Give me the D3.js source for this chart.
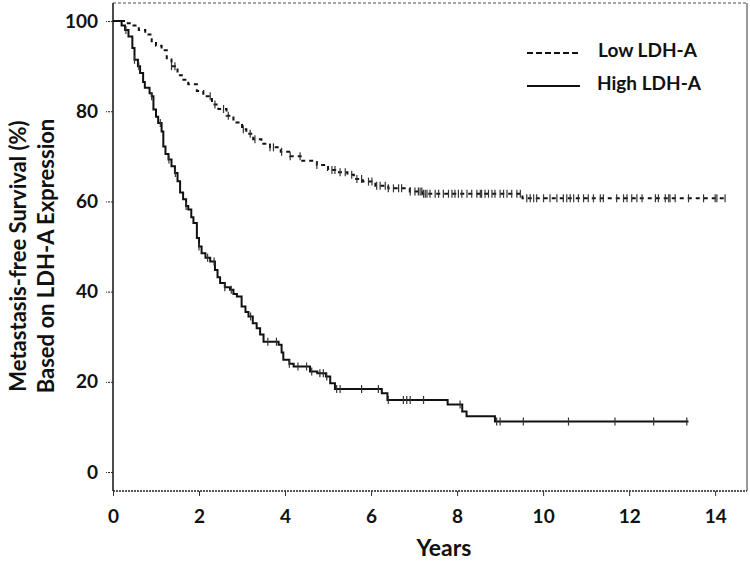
<!DOCTYPE html>
<html>
<head>
<meta charset="utf-8">
<script src="https://cdn.jsdelivr.net/npm/d3@7"></script>
<style>
  html, body { margin: 0; padding: 0; background: #fff; }
  svg { display: block; }
  text { font-family: Lato, "Open Sans", sans-serif; font-weight: bold; fill: #111; }
</style>
</head>
<body>
<svg id="chart" width="750" height="561"></svg>
<script>
// ---- data ----
const xTicks = [0, 2, 4, 6, 8, 10, 12, 14];
const yTicks = [0, 20, 40, 60, 80, 100];

const seriesNames = ["Low LDH-A", "High LDH-A"];

// Low LDH-A (dashed) step curve
const lowT = [0, 0.3, 0.45, 0.6, 0.75, 0.9, 1.0, 1.13, 1.25, 1.36, 1.5, 1.6, 1.75, 1.95, 2.1, 2.3, 2.45, 2.64, 2.8, 3.0, 3.1, 3.26, 3.45, 3.65, 3.9, 4.12, 4.4, 4.74, 5.0, 5.2, 5.45, 5.6, 5.81, 6.1, 6.4, 6.9, 7.2, 9.52, 14.23];
const lowS = [100, 99.5, 99, 98, 97, 95.5, 94.5, 93.5, 91.5, 90, 88, 87, 86, 84.5, 83.3, 81.5, 80.5, 79, 77.5, 76, 75, 73.8, 72.8, 72, 71, 70, 69, 68.1, 67, 66.5, 65.9, 65, 64.4, 63.5, 62.9, 62.2, 61.7, 60.7, 60.7];
const lowCensor = [1.36, 1.44, 2.26, 2.37, 2.57, 2.68, 3.03, 3.19, 3.30, 3.65, 3.73, 3.92, 4.12, 4.35, 4.74, 5.09, 5.16, 5.28, 5.40, 5.55, 5.67, 5.78, 5.94, 6.02, 6.13, 6.21, 6.33, 6.40, 6.52, 6.64, 6.71, 6.91, 7.02, 7.10, 7.14, 7.18, 7.22, 7.26, 7.30, 7.37, 7.49, 7.57, 7.68, 7.80, 7.88, 7.95, 8.03, 8.11, 8.23, 8.34, 8.46, 8.54, 8.57, 8.65, 8.73, 8.81, 8.88, 9.00, 9.08, 9.16, 9.27, 9.39, 9.47, 9.62, 9.70, 9.78, 9.85, 10.01, 10.16, 10.32, 10.47, 10.55, 10.63, 10.71, 10.82, 10.94, 11.05, 11.17, 11.33, 11.40, 11.71, 11.87, 11.95, 12.06, 12.18, 12.30, 12.61, 12.68, 12.84, 12.92, 12.95, 13.07, 13.38, 13.73, 14.00, 14.04, 14.23];

// High LDH-A (solid) step curve
const highT = [0, 0.2, 0.28, 0.36, 0.45, 0.5, 0.58, 0.63, 0.7, 0.74, 0.85, 0.9, 0.94, 1.0, 1.05, 1.13, 1.17, 1.22, 1.29, 1.36, 1.44, 1.5, 1.56, 1.63, 1.7, 1.75, 1.82, 1.87, 1.95, 2.0, 2.06, 2.15, 2.26, 2.37, 2.43, 2.49, 2.6, 2.72, 2.8, 2.88, 2.99, 3.08, 3.15, 3.25, 3.34, 3.42, 3.5, 3.85, 3.92, 3.96, 4.1, 4.2, 4.58, 4.75, 4.95, 5.05, 5.16, 6.25, 6.38, 7.78, 8.12, 8.22, 8.88, 13.38];
const highS = [100, 99, 98, 96.6, 94, 91.4, 90, 88.5, 86.5, 85.2, 84, 83.3, 80.4, 78.8, 77.4, 75.5, 72.2, 70.5, 69.3, 67.8, 66.3, 64.5, 62, 60.5, 59, 58.2, 56.5, 55.2, 51.9, 50, 48.5, 47.5, 46.7, 44.8, 43.2, 41.9, 41, 40.4, 39.5, 38.9, 36.7, 35.5, 34.5, 33, 31.9, 30.5, 28.9, 28.2, 26.5, 24.9, 24, 23.4, 22.3, 21.9, 21.2, 19.7, 18.4, 17.5, 16, 15, 13.4, 12.4, 11.2, 11.2];
const highCensor = [0.3, 0.5, 0.6, 0.9, 1.1, 1.3, 1.45, 1.7, 2.0, 2.2, 2.35, 2.6, 2.75, 3.2, 3.6, 3.8, 4.1, 4.3, 4.50, 4.62, 4.81, 4.89, 4.97, 5.20, 5.28, 5.78, 6.17, 6.40, 6.75, 6.83, 6.91, 7.22, 8.07, 8.92, 9.00, 9.54, 10.59, 11.67, 12.57, 13.34];

// ---- layout ----
const svg = d3.select("#chart");
const L = 113, R = 747, T = 3, B = 491;

const x = d3.scaleLinear().domain([0, 14.74]).range([L, R]);
const y = d3.scaleLinear().domain([-4.2, 104]).range([B, T]);

// frame
svg.append("line").attr("x1", L).attr("x2", R).attr("y1", T).attr("y2", T)
  .attr("stroke", "#888").attr("stroke-width", 1.5).attr("stroke-dasharray", "3,2");
svg.append("line").attr("x1", R).attr("x2", R).attr("y1", T).attr("y2", B)
  .attr("stroke", "#777").attr("stroke-width", 1.5);
svg.append("line").attr("x1", L).attr("x2", R).attr("y1", B).attr("y2", B)
  .attr("stroke", "#222").attr("stroke-width", 1.5).attr("stroke-dasharray", "2,1");

// y axis
const yAxis = d3.axisLeft(y).tickValues(yTicks).tickSize(7).tickPadding(8);
const gy = svg.append("g").attr("transform", `translate(${L},0)`).call(yAxis);
gy.select(".domain").attr("d", `M0,${T}V${B}`).attr("stroke", "#111").attr("stroke-width", 1.5);
gy.selectAll(".tick line").attr("stroke", "#222").attr("stroke-dasharray", "2,1");
gy.selectAll(".tick text").style("font-size", "19px").attr("fill", "#111")
  .style("font-family", "Lato, sans-serif").style("font-weight", "bold");

// x axis
const xAxis = d3.axisBottom(x).tickValues(xTicks).tickSize(5).tickPadding(14);
const gx = svg.append("g").attr("transform", `translate(0,${B})`).call(xAxis);
gx.select(".domain").remove();
gx.selectAll(".tick line").attr("stroke", "#333");
gx.selectAll(".tick text").style("font-size", "19px").attr("fill", "#111")
  .style("font-family", "Lato, sans-serif").style("font-weight", "bold");

// axis titles
svg.append("text").attr("x", (L + R) / 2 + 14).attr("y", 556).attr("text-anchor", "middle")
  .style("font-size", "23px").text("Years");
const yt = svg.append("text").attr("transform", "translate(0,256) rotate(-90)")
  .attr("text-anchor", "middle").style("font-size", "22px");
yt.append("tspan").attr("x", 0).attr("y", 26).text("Metastasis-free Survival (%)");
yt.append("tspan").attr("x", 0).attr("y", 54).text("Based on LDH-A Expression");

// curves
const stepLine = d3.line().x(d => x(d[0])).y(d => y(d[1])).curve(d3.curveStepAfter);
const lowData = lowT.map((t, i) => [t, lowS[i]]);
const highData = highT.map((t, i) => [t, highS[i]]);

svg.append("path").datum(lowData).attr("d", stepLine).attr("fill", "none")
  .attr("stroke", "#111").attr("stroke-width", 2).attr("stroke-dasharray", "4,4");
svg.append("path").datum(highData).attr("d", stepLine).attr("fill", "none")
  .attr("stroke", "#111").attr("stroke-width", 2);

function survAt(T, S, t) {
  let v = S[0];
  for (let i = 0; i < T.length; i++) { if (T[i] <= t) v = S[i]; }
  return v;
}
function censor(times, T, S, dash) {
  svg.append("g").selectAll("line").data(times).join("line")
    .attr("x1", d => x(d)).attr("x2", d => x(d))
    .attr("y1", d => y(survAt(T, S, d)) - 4).attr("y2", d => y(survAt(T, S, d)) + 4)
    .attr("stroke", "#333").attr("stroke-width", 1.2);
}
censor(lowCensor, lowT, lowS);
censor(highCensor, highT, highS);

// legend
const lg = svg.append("g");
lg.append("line").attr("x1", 527).attr("x2", 579).attr("y1", 53).attr("y2", 53)
  .attr("stroke", "#111").attr("stroke-width", 2).attr("stroke-dasharray", "6,3");
lg.append("line").attr("x1", 527).attr("x2", 580).attr("y1", 86).attr("y2", 86)
  .attr("stroke", "#111").attr("stroke-width", 2);
lg.append("text").attr("x", 598).attr("y", 57).style("font-size", "19px").text(seriesNames[0]);
lg.append("text").attr("x", 597).attr("y", 90).style("font-size", "19px").text(seriesNames[1]);
</script>
</body>
</html>
